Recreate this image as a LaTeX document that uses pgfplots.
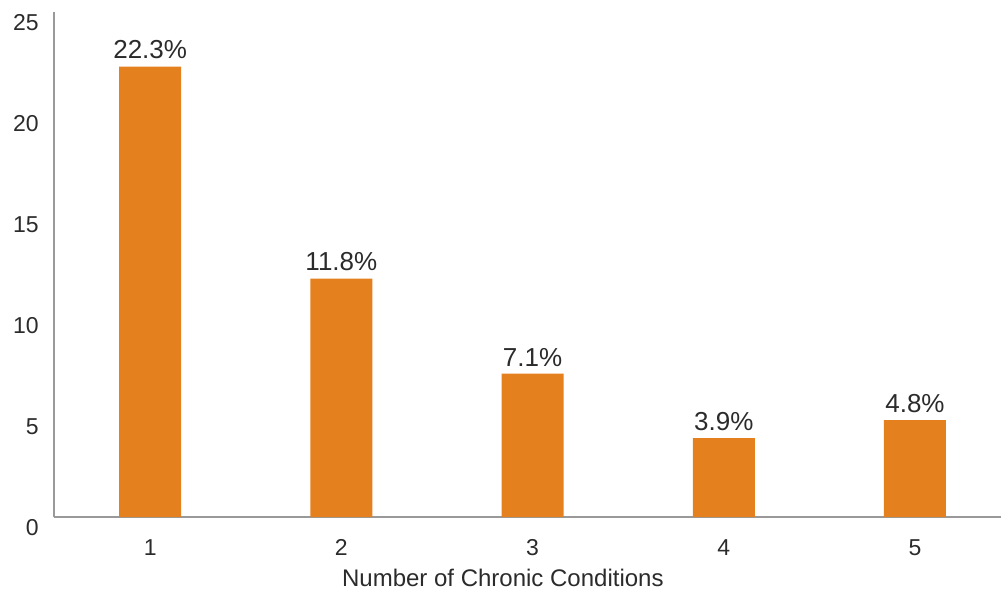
\documentclass[border=0pt]{standalone}
\usepackage{pgfplots}
\pgfplotsset{compat=1.18}
\usepackage{fontspec}
\setmainfont{Liberation Sans}
\definecolor{barorange}{HTML}{E5801E}
\definecolor{txt}{HTML}{2B2B2B}
\definecolor{axgray}{HTML}{999999}
\begin{document}
\begin{tikzpicture}
\useasboundingbox (-27pt,-36.5pt) rectangle (473.5pt,258.5pt);
\begin{axis}[
  at={(0,0)}, anchor=south west,
  scale only axis,
  width=473.5pt, height=252.5pt,
  xmin=0.497, xmax=5.45,
  ymin=0, ymax=25,
  axis x line*=bottom, axis y line*=left,
  axis line style={-, draw=axgray, line width=0.6pt},
  major tick length=0pt,
  xtick={1,2,3,4,5},
  ytick={0,5,10,15,20,25},
  /pgf/number format/assume math mode=true,
  tick label style={font=\fontsize{11.5}{13}\selectfont, text=txt},
  xticklabel style={anchor=north, inner sep=0pt, yshift=-11pt},
  yticklabel style={anchor=east, inner sep=0pt, xshift=-7.5pt, yshift=-5.5pt},
  xlabel={Number of Chronic Conditions},
  xlabel style={at={(axis description cs:0.474,0)}, anchor=north, inner sep=0pt, yshift=-26pt, font=\fontsize{12}{14}\selectfont, text=txt},
  ybar, bar width=31pt,
  nodes near coords={\pgfmathprintnumber[fixed,precision=1,fixed zerofill]{\pgfplotspointmeta}\%},
  nodes near coords style={font=\fontsize{13}{15}\selectfont, text=txt, anchor=south, inner sep=0pt, yshift=3.5pt},
  clip=false,
]
\addplot[fill=barorange, draw=none] coordinates {(1,22.3) (2,11.8) (3,7.1) (4,3.9) (5,4.8)};
\end{axis}
\end{tikzpicture}
\end{document}
